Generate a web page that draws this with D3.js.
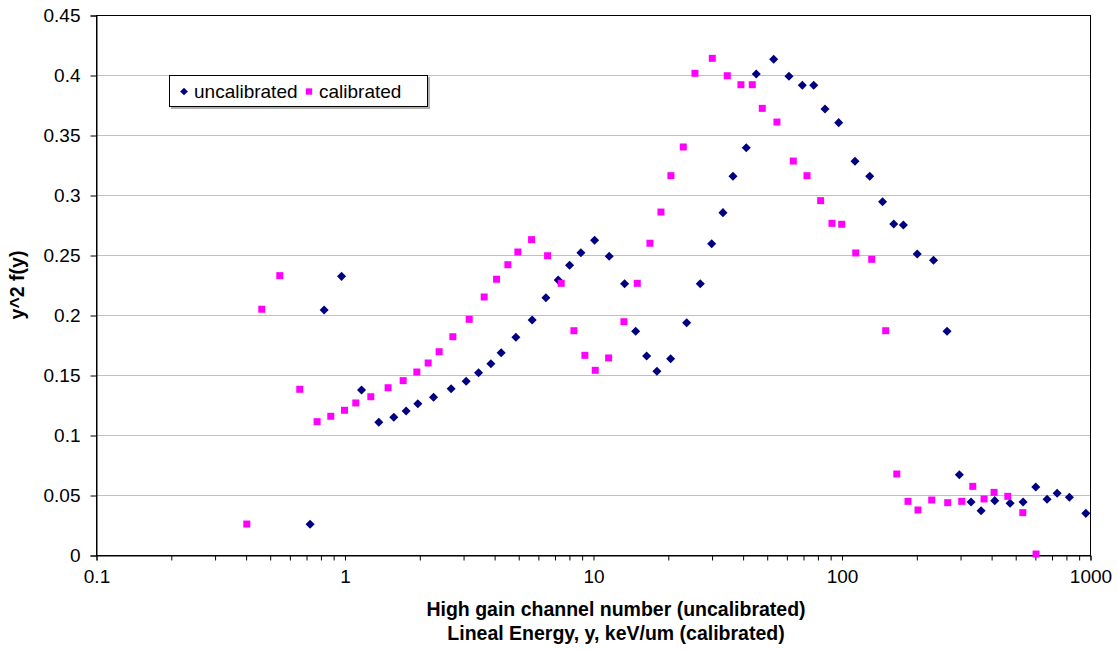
<!DOCTYPE html>
<html>
<head>
<meta charset="utf-8">
<script src="https://cdn.jsdelivr.net/npm/d3@7"></script>
<style>
  body { margin: 0; background: #fff; }
  svg { font-family: "Liberation Sans", Arial, sans-serif; }
</style>
</head>
<body>
<div id="chart"></div>
<script>
// values
const uncalX = [0.727, 0.828, 0.973, 1.171, 1.374, 1.579, 1.770, 1.973, 2.282, 2.686,
    3.087, 3.463, 3.882, 4.270, 4.894, 5.691, 6.463, 7.244, 8.051, 8.939,
    10.15, 11.62, 13.40, 14.85, 16.44, 18.08, 20.53, 23.82, 27.02, 30.03,
    33.34, 36.58, 41.38, 45.39, 53.35, 61.46, 69.55, 77.30, 85.83, 97.43,
    113.3, 129.9, 146.3, 162.3, 177.4, 201.7, 234.6, 265.9, 298.0, 332.2,
    364.5, 413.7, 476.9, 538.0, 605.0, 671.9, 737.4, 826.2, 962.0];
const uncalY = [0.0256, 0.2042, 0.2322, 0.1375, 0.1106, 0.1148, 0.1200, 0.1261, 0.1314, 0.1386,
    0.1448, 0.1519, 0.1594, 0.1686, 0.1814, 0.1958, 0.2144, 0.2292, 0.2414, 0.2519,
    0.2623, 0.2489, 0.2261, 0.1864, 0.1658, 0.1531, 0.1636, 0.1936, 0.2261, 0.2594,
    0.2853, 0.3156, 0.3394, 0.4008, 0.4131, 0.3989, 0.3914, 0.3914, 0.3717, 0.3603,
    0.3281, 0.3156, 0.2944, 0.2758, 0.2750, 0.2508, 0.2457, 0.1864, 0.0669, 0.0442,
    0.0369, 0.0453, 0.0431, 0.0442, 0.0567, 0.0464, 0.0514, 0.0481, 0.0347];

const calX = [0.4044, 0.4647, 0.549, 0.6607, 0.7757, 0.8807, 1.000, 1.110, 1.276, 1.498,
    1.722, 1.955, 2.171, 2.403, 2.729, 3.175, 3.648, 4.092, 4.544, 4.986,
    5.660, 6.565, 7.447, 8.378, 9.277, 10.21, 11.56, 13.32, 15.07, 16.95,
    18.77, 20.58, 23.08, 25.72, 30.20, 34.70, 39.39, 43.74, 47.99, 54.99,
    63.97, 72.63, 82.45, 91.58, 100.2, 114.1, 132.3, 150.6, 166.9, 185.2,
    203.2, 230.7, 267.6, 304.7, 337.5, 374.7, 411.1, 466.9, 536.5, 606.7];
const calY = [0.0258, 0.2048, 0.2328, 0.1381, 0.1111, 0.1156, 0.1206, 0.1267, 0.1319, 0.1394,
    0.1453, 0.1525, 0.1600, 0.1694, 0.1819, 0.1964, 0.2150, 0.2298, 0.2419, 0.2525,
    0.2628, 0.2494, 0.2264, 0.1869, 0.1664, 0.1539, 0.1642, 0.1944, 0.2264, 0.2598,
    0.2858, 0.3161, 0.3400, 0.4014, 0.4139, 0.3994, 0.3919, 0.3919, 0.3722, 0.3608,
    0.3283, 0.3161, 0.2953, 0.2764, 0.2756, 0.2517, 0.2464, 0.1869, 0.0675, 0.0447,
    0.0375, 0.0458, 0.0436, 0.0447, 0.0572, 0.0467, 0.0522, 0.0489, 0.0353, 0.0008];

const seriesNames = ['uncalibrated', 'calibrated'];
const seriesColors = ['#000080', '#ff00ff'];
const xTickLabels = ['0.1', '1', '10', '100', '1000'];
const yTicks = [0, 0.05, 0.1, 0.15, 0.2, 0.25, 0.3, 0.35, 0.4, 0.45];

/*
  - container: DOM selector
  - width, height: svg size
  - margin: plot area margins [top, bottom, left, right]
*/
class ScatterChart {
    #scaleX;
    #scaleY;

    constructor(container, width, height, margin) {
        this.width = width;
        this.height = height;
        this.margin = margin;

        this.svg = d3.select(container)
            .append('svg')
            .attr('width', this.width)
            .attr('height', this.height);

        this.chart = this.svg.append('g')
            .attr('transform', `translate(${this.margin[2]}, ${this.margin[0]})`);

        this.chartWidth = this.width - this.margin[2] - this.margin[3];
        this.chartHeight = this.height - this.margin[0] - this.margin[1];

        this.#scaleX = d3.scaleLog([0.1, 1000], [0, this.chartWidth]);
        this.#scaleY = d3.scaleLinear([0, 0.45], [this.chartHeight, 0]);
    }

    render(series) {
        this.#drawGrid();
        this.#drawAxes();

        // markers: diamonds for the first series, squares for the second
        let diamond = d3.symbol(d3.symbolSquare, 41)();
        let square = d3.symbol(d3.symbolSquare, 49)();

        series.forEach((s, i) => {
            this.chart.append('g')
                .selectAll('path')
                .data(s.x.map((x, j) => ({ x: x, y: s.y[j] })))
                .join('path')
                .attr('d', i == 0 ? diamond : square)
                .attr('fill', s.color)
                .attr('transform', d => `translate(${this.#scaleX(d.x)}, ${this.#scaleY(d.y)})` + (i == 0 ? ' rotate(45)' : ''));
        });

        this.#drawLegend(series);
        this.#drawTitles();
    }

    #drawGrid() {
        this.chart.append('g')
            .selectAll('line')
            .data(yTicks.filter(t => t > 0 && t < 0.45))
            .join('line')
            .attr('x1', 0)
            .attr('x2', this.chartWidth)
            .attr('y1', d => Math.round(this.#scaleY(d)) + 0.5)
            .attr('y2', d => Math.round(this.#scaleY(d)) + 0.5)
            .attr('stroke', '#c0c0c0')
            .attr('stroke-width', 1);

        // frame of the plot area
        this.chart.append('rect')
            .attr('x', 0.5)
            .attr('y', 0.5)
            .attr('width', this.chartWidth)
            .attr('height', this.chartHeight)
            .attr('fill', 'none')
            .attr('stroke', '#000')
            .attr('stroke-width', 1);
    }

    #drawAxes() {
        let majors = xTickLabels.map(Number);
        let minors = [];
        majors.slice(0, -1).forEach(m => {
            for (let k = 2; k < 10; k++) minors.push(m * k);
        });

        let xAxis = d3.axisBottom(this.#scaleX)
            .tickValues(majors.concat(minors))
            .tickSize(5)
            .tickFormat(d => xTickLabels.includes(String(d)) ? String(d) : '');

        let gx = this.chart.append('g')
            .attr('transform', `translate(0.5, ${this.chartHeight + 0.5})`)
            .call(xAxis);
        gx.select('.domain').attr('stroke', '#000');
        gx.selectAll('.tick line').attr('stroke', '#000');
        gx.selectAll('.tick text')
            .attr('y', 14)
            .attr('font-size', 19)
            .attr('font-family', '"Liberation Sans", Arial, sans-serif')
            .attr('fill', '#000');

        let yAxis = d3.axisLeft(this.#scaleY)
            .tickValues(yTicks)
            .tickSize(6)
            .tickPadding(10)
            .tickFormat(d => String(+d.toFixed(2)));

        let gy = this.chart.append('g')
            .attr('transform', 'translate(0.5, 0.5)')
            .call(yAxis);
        gy.select('.domain').attr('stroke', '#000');
        gy.selectAll('.tick line').attr('stroke', '#000');
        gy.selectAll('.tick text')
            .attr('font-size', 19)
            .attr('font-family', '"Liberation Sans", Arial, sans-serif')
            .attr('fill', '#000');
    }

    #drawLegend(series) {
        let lg = this.svg.append('g').attr('transform', 'translate(169, 75)');
        lg.append('rect')
            .attr('x', 2).attr('y', 2)
            .attr('width', 259).attr('height', 32)
            .attr('fill', '#b0b0b0');
        lg.append('rect')
            .attr('x', 0.5).attr('y', 0.5)
            .attr('width', 258).attr('height', 31)
            .attr('fill', '#fff')
            .attr('stroke', '#000');

        let offsets = [15, 140];
        series.forEach((s, i) => {
            lg.append('path')
                .attr('d', d3.symbol(d3.symbolSquare, i == 0 ? 30 : 40)())
                .attr('fill', s.color)
                .attr('transform', `translate(${offsets[i]}, 16.5)` + (i == 0 ? ' rotate(45)' : ''));
            lg.append('text')
                .attr('x', offsets[i] + 10)
                .attr('y', 23)
                .attr('font-size', 19)
                .text(s.name);
        });
    }

    #drawTitles() {
        let cx = 616;
        this.svg.append('text')
            .attr('x', cx).attr('y', 616)
            .attr('text-anchor', 'middle')
            .attr('font-size', 19.5)
            .attr('font-weight', 'bold')
            .text('High gain channel number (uncalibrated)');
        this.svg.append('text')
            .attr('x', cx).attr('y', 640)
            .attr('text-anchor', 'middle')
            .attr('font-size', 19.5)
            .attr('font-weight', 'bold')
            .text('Lineal Energy, y, keV/um (calibrated)');
        this.svg.append('text')
            .attr('transform', 'translate(24, 285) rotate(-90)')
            .attr('text-anchor', 'middle')
            .attr('font-size', 19.5)
            .attr('font-weight', 'bold')
            .text('y^2 f(y)');
    }
}

let chart = new ScatterChart('#chart', 1118, 650, [15, 95, 96, 28]);
chart.render([
    { name: seriesNames[0], color: seriesColors[0], x: uncalX, y: uncalY },
    { name: seriesNames[1], color: seriesColors[1], x: calX, y: calY }
]);
</script>
</body>
</html>
